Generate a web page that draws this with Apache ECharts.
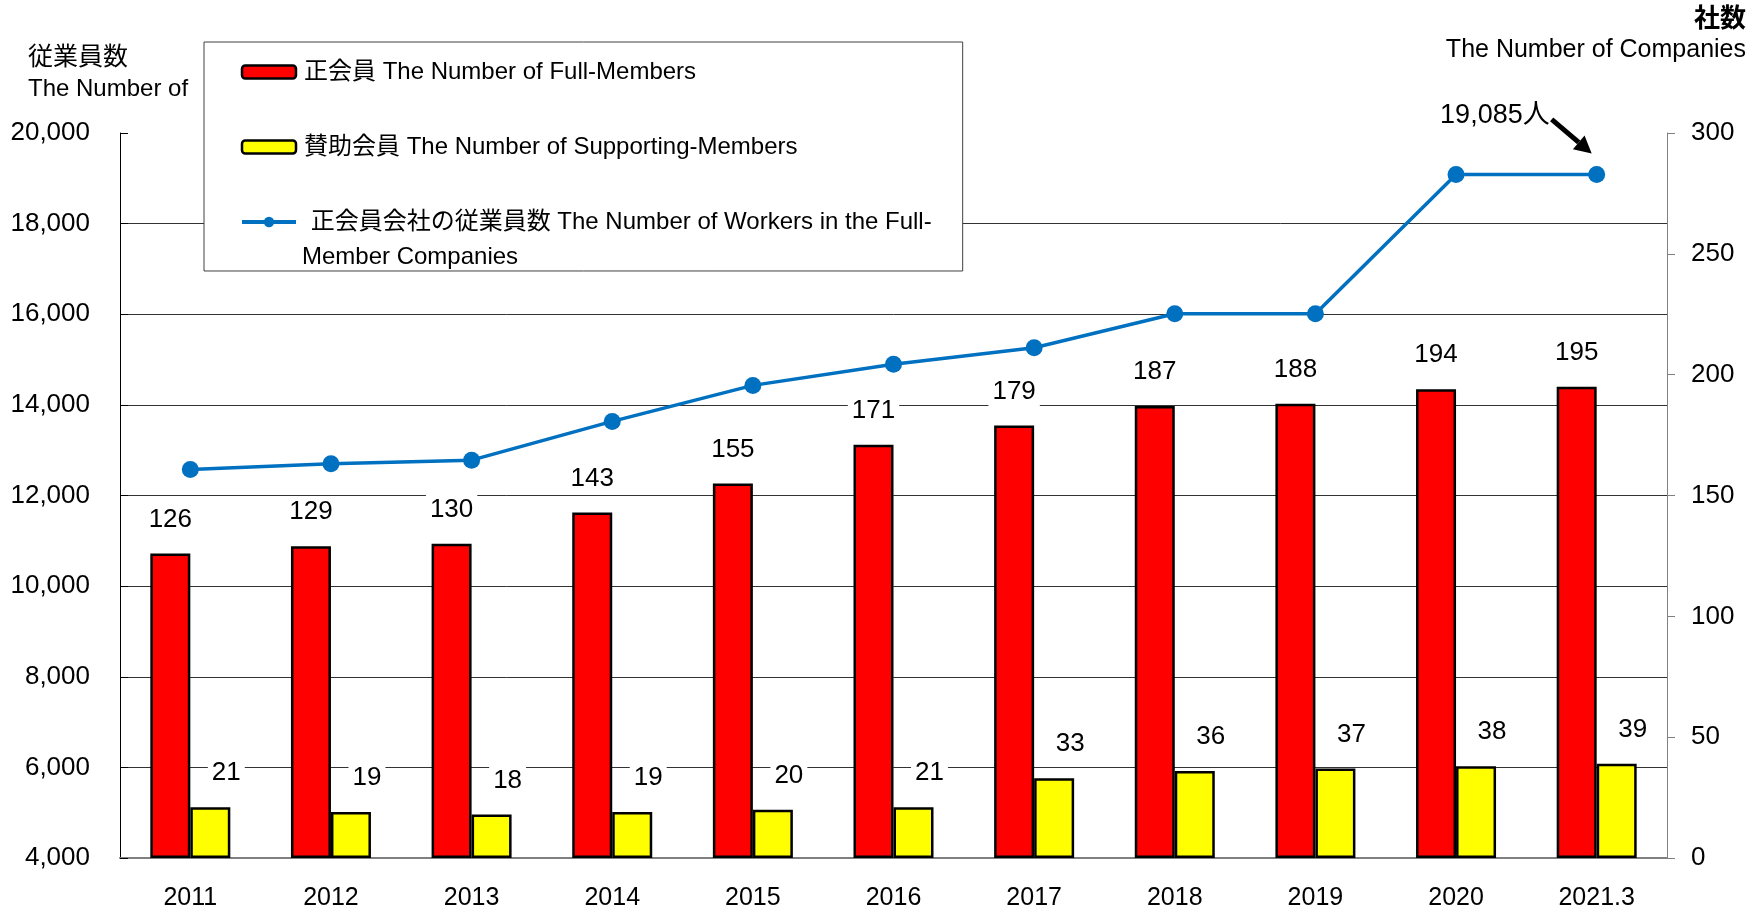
<!DOCTYPE html>
<html>
<head>
<meta charset="utf-8">
<script src="https://cdn.jsdelivr.net/npm/echarts@6/dist/echarts.min.js"></script>
<style>
  html, body { margin: 0; padding: 0; background: #fff; }
  #chart { width: 1758px; height: 912px; }
</style>
</head>
<body>
<div id="chart"></div>
<script>
// data
const years = ['2011', '2012', '2013', '2014', '2015', '2016', '2017', '2018', '2019', '2020', '2021.3']
const fullMembers = [126, 129, 130, 143, 155, 171, 179, 187, 188, 194, 195]
const supportingMembers = [21, 19, 18, 19, 20, 21, 33, 36, 37, 38, 39]
const workers = [12575, 12700, 12780, 13635, 14430, 14895, 15260, 16010, 16010, 19085, 19085]

const leftTicks = { min: 4000, max: 20000, interval: 2000 }
const rightTicks = { min: 0, max: 300, interval: 50 }

const FONT = "'Liberation Sans', 'Noto Sans CJK JP', sans-serif"

const chart = echarts.init(document.getElementById('chart'))

const barLabel = {
  show: true,
  position: 'top',
  distance: 19,
  color: '#000',
  fontSize: 26,
  fontFamily: FONT,
  backgroundColor: '#fff',
  padding: [2, 4]
}

chart.setOption({
  animation: false,
  backgroundColor: '#fff',
  textStyle: { fontFamily: FONT },
  grid: { left: 120, right: 91, top: 133, bottom: 54 },
  legend: {
    orient: 'vertical',
    left: 204,
    top: 42,
    padding: [18, 31, 37, 36],
    itemGap: 51,
    itemWidth: 54,
    itemHeight: 13,
    backgroundColor: '#fff',
    borderColor: '#404040',
    borderWidth: 1,
    selectedMode: false,
    textStyle: { fontSize: 24, color: '#000', fontFamily: FONT, padding: [0, 0, 0, 3] },
    data: [
      { name: '正会員 The Number of Full-Members', itemStyle: { borderColor: '#000', borderWidth: 2.5 } },
      { name: '賛助会員 The Number of Supporting-Members', itemStyle: { borderColor: '#000', borderWidth: 2.5 } },
      { name: ' 正会員会社の従業員数 The Number of Workers in the Full-', lineStyle: { width: 4 } }
    ]
  },
  xAxis: {
    type: 'category',
    data: years,
    axisLine: { lineStyle: { color: '#808080', width: 2 } },
    axisTick: { inside: true, length: 9, lineStyle: { color: '#808080' } },
    axisLabel: { fontSize: 25, color: '#000', margin: 28, fontFamily: FONT }
  },
  yAxis: [
    {
      type: 'value',
      ...leftTicks,
      axisLine: { show: true, lineStyle: { color: '#000', width: 1 } },
      axisTick: { show: true, inside: true, length: 8, lineStyle: { color: '#000' } },
      axisLabel: {
        fontSize: 26, color: '#000', margin: 30, fontFamily: FONT,
        formatter: v => v.toLocaleString('en-US')
      },
      splitLine: { show: true, showMaxLine: false, lineStyle: { color: '#333', width: 1 } }
    },
    {
      type: 'value',
      ...rightTicks,
      position: 'right',
      axisLine: { show: true, lineStyle: { color: '#808080', width: 1 } },
      axisTick: { show: true, length: 8, lineStyle: { color: '#808080' } },
      axisLabel: { fontSize: 26, color: '#000', margin: 24, fontFamily: FONT },
      splitLine: { show: false }
    }
  ],
  series: [
    {
      name: '正会員 The Number of Full-Members',
      type: 'bar',
      yAxisIndex: 1,
      data: fullMembers,
      barWidth: 40,
      barGap: '0%',
      itemStyle: { color: '#ff0000', borderColor: '#000', borderWidth: 2.5 },
      label: barLabel,
      z: 3
    },
    {
      name: '賛助会員 The Number of Supporting-Members',
      type: 'bar',
      yAxisIndex: 1,
      data: supportingMembers,
      barWidth: 40,
      barGap: '0%',
      itemStyle: { color: '#ffff00', borderColor: '#000', borderWidth: 2.5 },
      label: { ...barLabel, offset: [16, 0] },
      z: 3
    },
    {
      name: ' 正会員会社の従業員数 The Number of Workers in the Full-',
      type: 'line',
      yAxisIndex: 0,
      data: workers,
      symbol: 'circle',
      symbolSize: 17,
      color: '#0070c0',
      lineStyle: { color: '#0070c0', width: 3.5 },
      itemStyle: { color: '#0070c0' },
      z: 5
    }
  ]
})

// annotation anchored to the last point of the workers line
const last = workers.length - 1
const [px, py] = chart.convertToPixel({ seriesIndex: 2 }, [last, workers[last]])
const x0 = px - 45, y0 = py - 55
const x1 = px - 5, y1 = py - 21
const ang = Math.atan2(y1 - y0, x1 - x0)
const headLen = 17, headW = 9
const bx = x1 - headLen * Math.cos(ang), by = y1 - headLen * Math.sin(ang)
const nx = -Math.sin(ang), ny = Math.cos(ang)

chart.setOption({
  graphic: [
    {
      type: 'text', left: 28, top: 46,
      style: { text: '従業員数', fill: '#000', font: `25px ${FONT}` }
    },
    {
      type: 'text', left: 28, top: 77,
      style: { text: 'The Number of', fill: '#000', font: `24px ${FONT}` }
    },
    {
      type: 'text', right: 12, top: 7,
      style: { text: '社数', fill: '#000', font: `bold 26px ${FONT}`, align: 'right' }
    },
    {
      type: 'text', right: 12, top: 38,
      style: { text: 'The Number of Companies', fill: '#000', font: `25px ${FONT}`, align: 'right' }
    },
    {
      type: 'text', left: 302, top: 245, z: 100,
      style: { text: 'Member Companies', fill: '#000', font: `24px ${FONT}` }
    },
    {
      type: 'text', x: px - 47, y: py - 59, z: 100,
      style: { text: '19,085人', fill: '#000', font: `27px ${FONT}`, align: 'right', verticalAlign: 'middle' }
    },
    {
      type: 'line', z: 100,
      shape: { x1: x0, y1: y0, x2: bx, y2: by },
      style: { stroke: '#000', lineWidth: 5 }
    },
    {
      type: 'polygon', z: 100,
      shape: { points: [[x1, y1], [bx + nx * headW, by + ny * headW], [bx - nx * headW, by - ny * headW]] },
      style: { fill: '#000' }
    }
  ]
})

window.addEventListener('resize', () => chart.resize())
</script>
</body>
</html>
